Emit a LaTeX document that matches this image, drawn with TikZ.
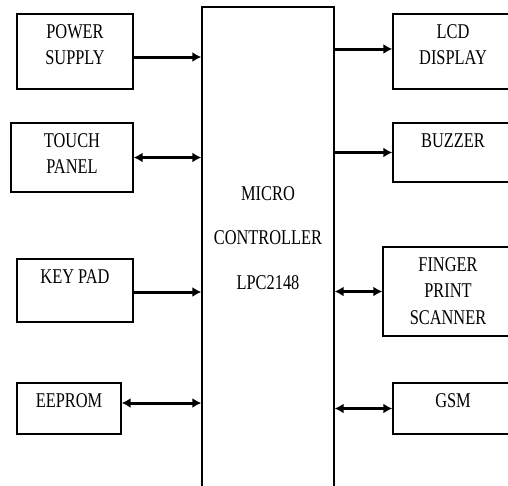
\documentclass[tikz,border=0pt]{standalone}
\usepackage{fontspec}
\setmainfont{Liberation Serif}[FakeStretch=0.78]
\usetikzlibrary{positioning,arrows.meta}
\tikzset{
  % --- blocks ------------------------------------------------------------
  blk/.style    ={rectangle, draw, line width=1.4pt, inner sep=0},
  txt/.style    ={align=center, inner sep=0,
                  font=\fontsize{21}{26.5}\selectfont},
  % --- arrows ------------------------------------------------------------
  arrow/.style  ={-{Latex[length=9pt,width=10pt]}, line width=3pt},
  biarrow/.style={{Latex[length=9pt,width=10pt]}-{Latex[length=9pt,width=10pt]},
                  line width=3pt},
}

\begin{document}
\begin{tikzpicture}[x=1pt, y=-1pt]
  \useasboundingbox (0,0) rectangle (508,485);

  % ===================== controller =====================
  \node[blk, minimum width=132, minimum height=500] (mcu) at (268,257) {};
  \node[txt] (mcu-t) at (268,238) {MICRO\\[18pt]CONTROLLER\\[18pt]LPC2148};

  % ===================== inputs (left) =====================
  \node[blk, minimum width=116, minimum height=75] (psu) at (75,51.5) {};
  \node[txt, below=11pt of psu.north] (psu-t) {POWER\\SUPPLY};
  \node[blk, minimum width=122, minimum height=69] (tp) at (72,157.5) {};
  \node[txt, below=11pt of tp.north] (tp-t) {TOUCH\\PANEL};
  \node[blk, minimum width=116, minimum height=63] (kp) at (75,290.5) {};
  \node[txt, below=11pt of kp.north] (kp-t) {KEY PAD};
  \node[blk, minimum width=104, minimum height=51] (eep) at (69,408.5) {};
  \node[txt, below=11pt of eep.north] (eep-t) {EEPROM};

  % ===================== outputs (right) =====================
  \node[blk, minimum width=120, minimum height=75] (lcd) at (453,51.5) {};
  \node[txt, below=11pt of lcd.north] (lcd-t) {LCD\\DISPLAY};
  \node[blk, minimum width=120, minimum height=59] (bz) at (453,152.5) {};
  \node[txt, below=11pt of bz.north] (bz-t) {BUZZER};
  \node[blk, minimum width=130, minimum height=89] (fp) at (448,291.5) {};
  \node[txt, below=11pt of fp.north] (fp-t) {FINGER\\PRINT\\SCANNER};
  \node[blk, minimum width=120, minimum height=51] (gsm) at (453,408.5) {};
  \node[txt, below=11pt of gsm.north] (gsm-t) {GSM};

  % ===================== edges =====================
  \draw[arrow]   ([yshift=-5.5pt]psu.east) -- ([yshift=-5.5pt]psu.east -| mcu.west);
  \draw[biarrow] (tp.east) -- (tp.east -| mcu.west);
  \draw[arrow]   ([yshift=-1.5pt]kp.east) -- ([yshift=-1.5pt]kp.east -| mcu.west);
  \draw[biarrow] ([yshift=5.5pt]eep.east) -- ([yshift=5.5pt]eep.east -| mcu.west);
  \draw[arrow]   ([yshift=2.5pt]lcd.west -| mcu.east) -- ([yshift=2.5pt]lcd.west);
  \draw[arrow]   (bz.west -| mcu.east) -- (bz.west);
  \draw[biarrow] (fp.west -| mcu.east) -- (fp.west);
  \draw[biarrow] (gsm.west -| mcu.east) -- (gsm.west);

\end{tikzpicture}
\end{document}
